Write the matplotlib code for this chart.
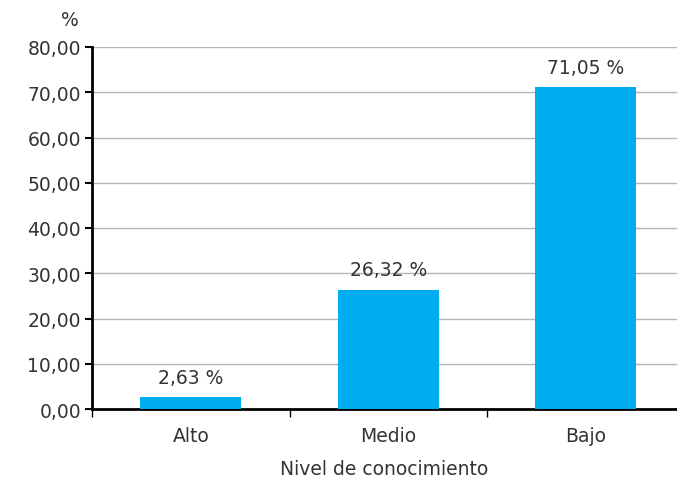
import matplotlib
matplotlib.use("Agg")
import matplotlib.pyplot as plt

categories = ["Alto", "Medio", "Bajo"]
values = [2.63, 26.32, 71.05]
yticks = [0, 10, 20, 30, 40, 50, 60, 70, 80]

def fmt(v):
    return f"{v:.2f}".replace(".", ",")

FS = 13.5
TC = "#333333"

fig = plt.figure(figsize=(6.77, 4.81), dpi=100)
ax = fig.add_axes([92/677, 1-410/481, 1-92/677, (410-48)/481])

x = list(range(len(categories)))
ax.bar(x, values, width=0.51, color="#00AEEF", zorder=3)
for xi, v in zip(x, values):
    ax.text(xi, v + 2.3, fmt(v) + " %", ha="center", va="bottom", fontsize=FS, color=TC)

ax.set_xlim(-0.5, (677-92)/197.5 - 0.5)
ax.set_ylim(0, 80)
ax.set_yticks(yticks)
ax.set_yticklabels([fmt(t) for t in yticks], fontsize=FS, color=TC)
ax.yaxis.grid(True, color="#b4b4b4", linewidth=1, zorder=0)

ax.set_xticks([-0.5, 0.5, 1.5])
ax.set_xticklabels([])
ax.set_xticks(x, minor=True)
ax.set_xticklabels(categories, minor=True, fontsize=FS, color=TC)
ax.tick_params(axis="x", which="major", length=6, width=1, color="black", direction="out")
ax.tick_params(axis="x", which="minor", length=0, pad=12)
ax.tick_params(axis="y", length=5, width=1.5, color="black", pad=3)

for s in ["top", "right"]:
    ax.spines[s].set_visible(False)
ax.spines["left"].set_linewidth(2)
ax.spines["bottom"].set_linewidth(2)

ax.set_xlabel("Nivel de conocimiento", fontsize=FS, color=TC, labelpad=10)
fig.text(70/677, 1-20/481, "%", ha="center", va="center", fontsize=FS, color=TC)

fig.savefig("out.png", dpi=100)
